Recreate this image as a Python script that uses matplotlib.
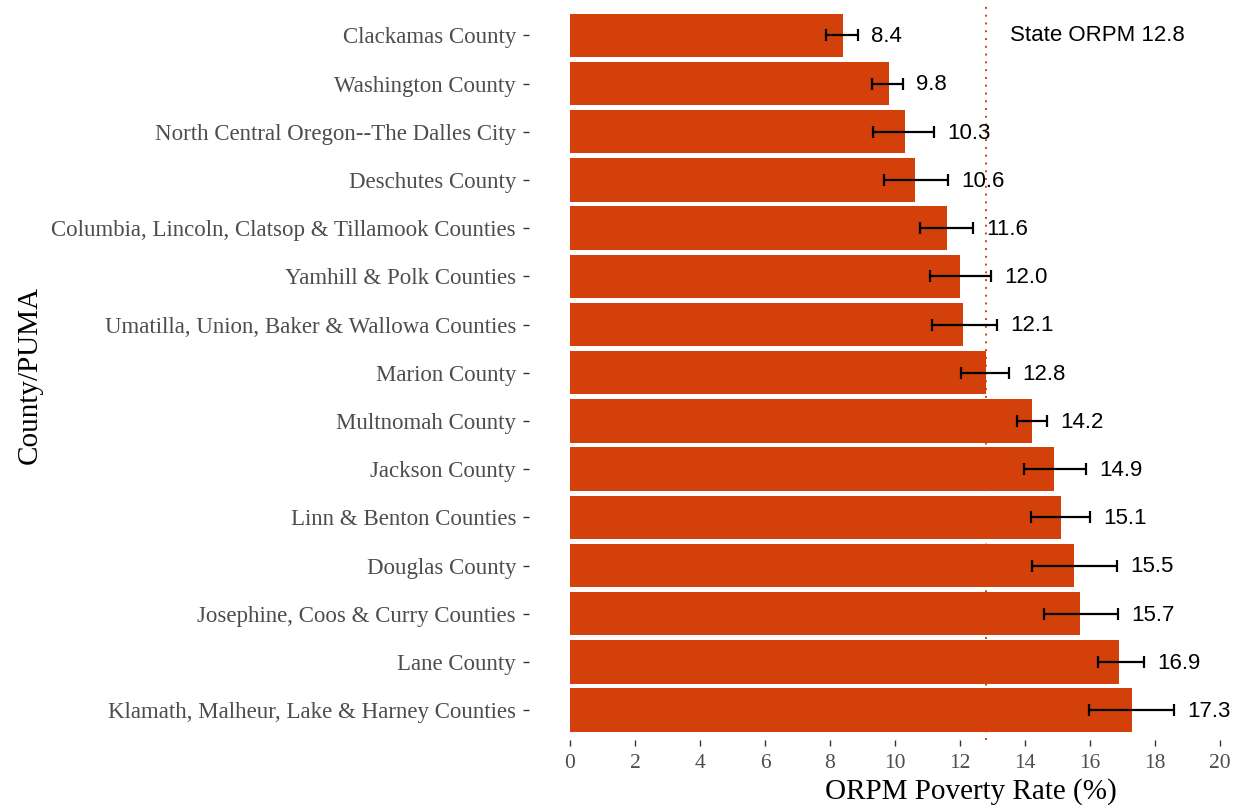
import numpy as np
import matplotlib.pyplot as plt

areas = [
    "Clackamas County",
    "Washington County",
    "North Central Oregon--The Dalles City",
    "Deschutes County",
    "Columbia, Lincoln, Clatsop & Tillamook Counties",
    "Yamhill & Polk Counties",
    "Umatilla, Union, Baker & Wallowa Counties",
    "Marion County",
    "Multnomah County",
    "Jackson County",
    "Linn & Benton Counties",
    "Douglas County",
    "Josephine, Coos & Curry Counties",
    "Lane County",
    "Klamath, Malheur, Lake & Harney Counties",
]
rate = [8.4, 9.8, 10.3, 10.6, 11.6, 12.0, 12.1, 12.8, 14.2, 14.9, 15.1, 15.5, 15.7, 16.9, 17.3]
err_lo = [7.87, 9.28, 9.31, 9.65, 10.77, 11.08, 11.14, 12.03, 13.75, 13.97, 14.18, 14.22, 14.58, 16.25, 15.98]
err_hi = [8.87, 10.24, 11.20, 11.62, 12.39, 12.95, 13.14, 13.52, 14.68, 15.87, 16.00, 16.83, 16.85, 17.66, 18.58]
state_rate = 12.8
xticks = [0, 2, 4, 6, 8, 10, 12, 14, 16, 18, 20]

bar_color = "#D4400A"
gray = "#4D4D4D"
serif = "Liberation Serif"
sans = "Liberation Sans"

W, H = 1237, 811
fig = plt.figure(figsize=(W / 100, H / 100), dpi=100)
ax = fig.add_axes([529 / W, 1 - 740 / H, (W - 529) / W, (740 - 5.5) / H])

y = np.arange(len(areas))
rate = np.array(rate)
lo = rate - np.array(err_lo)
hi = np.array(err_hi) - rate

ax.barh(y, rate, height=0.9, color=bar_color, zorder=2)
ax.errorbar(rate, y, xerr=[lo, hi], fmt="none", ecolor="black",
            elinewidth=1.6, capsize=4.5, capthick=1.6, zorder=3)
ax.axvline(state_rate, color=bar_color, linestyle=(0, (1, 3)), linewidth=1.4, zorder=1)

for yi, v, h in zip(y, rate, err_hi):
    ax.annotate(f"{v:.1f}", xy=(h, yi), xytext=(9.5, -1), textcoords="offset points",
                ha="left", va="center", fontsize=16, family=sans, color="black",
                annotation_clip=False)

ax.text(13.55, 0, f"State ORPM {state_rate}", ha="left", va="center",
        fontsize=16, family=sans, color="black")

ax.set_xlim(-41 / 32.5, (W - 570) / 32.5)
ax.set_ylim(len(areas) - 1 + 0.62, -0.62)
ax.set_xticks(xticks)
ax.set_xticklabels([str(t) for t in xticks], family=serif, fontsize=15.5, color=gray)
ax.set_yticks(y)
ax.set_yticklabels(areas, family=serif, fontsize=16.5, color=gray)
ax.tick_params(axis="both", length=4.3, width=1.0, color="#333333", pad=5)
ax.tick_params(axis="x", pad=6)

for s in ax.spines.values():
    s.set_visible(False)

fig.text(971 / W, 1 - 792 / H, "ORPM Poverty Rate (%)", family=serif, fontsize=21,
         color="black", ha="center", va="center")
fig.text(30 / W, 1 - 375 / H, "County/PUMA", family=serif, fontsize=21,
         color="black", ha="center", va="center", rotation=90)

fig.savefig("out.png", dpi=100)
